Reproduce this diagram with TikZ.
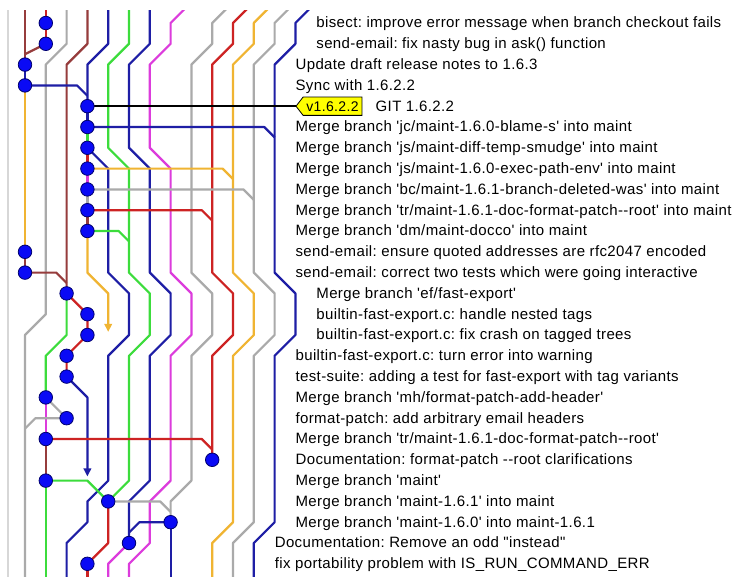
\documentclass[tikz,border=0pt]{standalone}
\usepackage{fontspec}
\newfontfamily\gitfont{Liberation Sans}[LetterSpace=2.5]
\usetikzlibrary{arrows.meta}
\frenchspacing
\definecolor{gblue}{RGB}{30,30,165}
\definecolor{ggreen}{RGB}{60,220,60}
\definecolor{gmag}{RGB}{220,60,220}
\definecolor{ggray}{RGB}{170,170,170}
\definecolor{gred}{RGB}{205,35,35}
\definecolor{gbrown}{RGB}{150,60,60}
\definecolor{gorange}{RGB}{240,180,50}
\definecolor{glight}{RGB}{215,215,215}
\definecolor{dotfill}{RGB}{10,10,245}
\definecolor{dotedge}{RGB}{0,0,110}
\definecolor{tagyellow}{RGB}{255,255,0}
\begin{document}
\begin{tikzpicture}[
  ln/.style={line width=2.2pt, line join=round},
  cdot/.style={circle, fill=dotfill, draw=dotedge, line width=0.8pt, minimum size=13.5pt, inner sep=0pt},
  msg/.style={anchor=base west, inner sep=0pt, font=\gitfont\fontsize{15}{17}\selectfont\frenchspacing},
  arr/.style={-{Triangle[length=8pt,width=7.5pt]}},
]
\useasboundingbox (0pt,0pt) rectangle (734pt,-576pt);
\fill[white] (0pt,0pt) rectangle (734pt,-576pt);
\begin{scope}[shift={(4.2pt,-23pt)}, x=20.8pt, y=-20.8pt]
% commit positions (column, row)
\coordinate (p0) at (2,0);
\coordinate (p1) at (2,1);
\coordinate (p2) at (1,2);
\coordinate (p3) at (1,3);
\coordinate (p4) at (4,4);
\coordinate (p5) at (4,5);
\coordinate (p6) at (4,6);
\coordinate (p7) at (4,7);
\coordinate (p8) at (4,8);
\coordinate (p9) at (4,9);
\coordinate (p10) at (4,10);
\coordinate (p11) at (1,11);
\coordinate (p12) at (1,12);
\coordinate (p13) at (3,13);
\coordinate (p14) at (4,14);
\coordinate (p15) at (4,15);
\coordinate (p16) at (3,16);
\coordinate (p17) at (3,17);
\coordinate (p18) at (2,18);
\coordinate (p19) at (3,19);
\coordinate (p20) at (2,20);
\coordinate (p21) at (10,21);
\coordinate (p22) at (2,22);
\coordinate (p23) at (5,23);
\coordinate (p24) at (8,24);
\coordinate (p25) at (6,25);
\coordinate (p26) at (4,26);
\coordinate (tagtip) at (14.03,4);
\begin{scope}
\clip (-1,-0.625) rectangle (36,26.7);
% left border line
\draw[ln, glight] (0.2,-1) -- (0.2,27);
% long lines from above
\draw[ln, gbrown] (1,-1) -- (p2);
\draw[ln, gbrown] (p1) -- (1,1.5);
\draw[ln, gred] (2,-1) -- (p0) -- (p1);
\draw[ln, ggray] (3,-1) -- (3,1) -- (2,2) -- (2,14) -- (1,15) -- (1,27);
\draw[ln, gbrown] (4,-1) -- (4,1) -- (3,2) -- (p13);
\draw[ln, gblue] (5,-1) -- (5,1) -- (4,2) -- (p4);
\draw[ln, ggreen] (6,-1) -- (6,1) -- (5,2) -- (5,6) -- (6,7) -- (6,12) -- (7,13) -- (7,15) -- (6,16) -- (6,22) -- (p23);
\draw[ln, gblue] (7,-1) -- (7,1) -- (6,2) -- (6,6) -- (7,7) -- (7,12) -- (8,13) -- (8,15) -- (7,16) -- (7,22) -- (6,23) -- (p25);
\draw[ln, gmag] (9,-1) -- (8,0) -- (8,1) -- (7,2) -- (7,6) -- (8,7) -- (8,12) -- (9,13) -- (9,15) -- (8,16) -- (8,22) -- (7,23) -- (7,25) -- (6,26) -- (6,27);
\draw[ln, ggray] (11,-1) -- (10,0) -- (10,1) -- (9,2) -- (9,12) -- (10,13) -- (10,15) -- (9,16) -- (9,22) -- (8,23) -- (p24);
\draw[ln, gred] (12,-1) -- (11,0) -- (11,1) -- (10,2) -- (10,12) -- (11,13) -- (11,15) -- (10,16) -- (p21);
\draw[ln, gorange] (13,-1) -- (12,0) -- (12,1) -- (11,2) -- (11,12) -- (12,13) -- (12,15) -- (11,16) -- (11,24) -- (10,25) -- (10,27);
\draw[ln, ggray] (14,-1) -- (13,0) -- (13,1) -- (12,2) -- (12,12) -- (13,13) -- (13,15) -- (12,16) -- (12,24) -- (11,25) -- (11,27);
\draw[ln, gblue] (15,-1) -- (14,0) -- (14,1) -- (13,2) -- (13,12) -- (14,13) -- (14,15) -- (13,16) -- (13,24) -- (12,25) -- (12,27);
% first-parent chains
\draw[ln, gblue] (p2) -- (p3);
\draw[ln, gorange] (p3) -- (p11);
\draw[ln, gbrown] (p11) -- (p12);
\draw[ln, gblue] (p4) -- (p5);
\draw[ln, ggreen] (p5) -- (p6);
\draw[ln, gred] (p6) -- (p7);
\draw[ln, gmag] (p7) -- (p8);
\draw[ln, ggray] (p8) -- (p9);
\draw[ln, gbrown] (p9) -- (p10);
\draw[ln, gorange, arr] (p10) -- (4,12) -- (5,13) -- (5,14.85);
\draw[ln, gblue] (p6) -- (5,7) -- (5,12) -- (6,13) -- (6,15) -- (5,16) -- (5,22) -- (4,23) -- (4,24) -- (3,25) -- (3,27);
\draw[ln, gred] (p13) -- (p14) -- (p15) -- (p16) -- (p17);
\draw[ln, ggreen] (p13) -- (3,15) -- (2,16) -- (p18);
\draw[ln, gblue, arr] (p17) -- (4,18) -- (4,21.8);
\draw[ln, ggray] (p18) -- (p19);
\draw[ln, gmag] (p18) -- (p20);
\draw[ln, gbrown] (p20) -- (p22);
\draw[ln, ggreen] (p22) -- (2,27);
\draw[ln, gred] (p23) -- (5,25) -- (p26);
\draw[ln, gblue] (p24) -- (8,27);
\draw[ln, gmag] (p25) -- (5,26) -- (5,27);
\draw[ln, gred] (p26) -- (4,27);
% merge links
\draw[ln, gblue] (p3) -- (3.5,3) -- (4,3.5);
\draw[ln, gblue] (p5) -- (12.5,5) -- (13,5.5);
\draw[ln, gorange] (p7) -- (10.5,7) -- (11,7.5);
\draw[ln, ggray] (p8) -- (11.5,8) -- (12,8.5);
\draw[ln, gred] (p9) -- (9.5,9) -- (10,9.5);
\draw[ln, ggreen] (p10) -- (5.5,10) -- (6,10.5);
\draw[ln, gbrown] (p12) -- (2.5,12) -- (3,12.5);
\draw[ln, ggray] (p19) -- (1.5,19) -- (1,19.5);
\draw[ln, gred] (p20) -- (9.5,20) -- (10,20.5);
\draw[ln, ggreen] (p22) -- (4,22) -- (p23);
\draw[ln, ggray] (p23) -- (7.5,23) -- (8,23.5);
\draw[ln, gblue] (p24) -- (6.5,24) -- (6,24.5);
\end{scope}
% tag
\draw[ln, black] (p4) -- (tagtip);
\draw[fill=tagyellow, draw=black, line width=0.8pt] (tagtip) -- (14.37,3.56) -- (17.2,3.56) -- (17.2,4.44) -- (14.37,4.44) -- cycle;
\node[msg, anchor=base, font=\gitfont\fontsize{14}{16}\selectfont] (tagtxt) at (15.78,4.24) {v1.6.2.2};
% commits
\foreach \i in {0,...,26} { \node[cdot] (d\i) at (p\i) {}; }
% messages
\node[msg] (t0) at (15,0.24) {bisect: improve error message when branch checkout fails};
\node[msg] (t1) at (15,1.24) {send-email: fix nasty bug in ask() function};
\node[msg] (t2) at (14,2.24) {Update draft release notes to 1.6.3};
\node[msg] (t3) at (14,3.24) {Sync with 1.6.2.2};
\node[msg] (t4) at (17.85,4.24) {GIT 1.6.2.2};
\node[msg] (t5) at (14,5.24) {Merge branch 'jc/maint-1.6.0-blame-s' into maint};
\node[msg] (t6) at (14,6.24) {Merge branch 'js/maint-diff-temp-smudge' into maint};
\node[msg] (t7) at (14,7.24) {Merge branch 'js/maint-1.6.0-exec-path-env' into maint};
\node[msg] (t8) at (14,8.24) {Merge branch 'bc/maint-1.6.1-branch-deleted-was' into maint};
\node[msg] (t9) at (14,9.24) {Merge branch 'tr/maint-1.6.1-doc-format-patch--root' into maint};
\node[msg] (t10) at (14,10.24) {Merge branch 'dm/maint-docco' into maint};
\node[msg] (t11) at (14,11.24) {send-email: ensure quoted addresses are rfc2047 encoded};
\node[msg] (t12) at (14,12.24) {send-email: correct two tests which were going interactive};
\node[msg] (t13) at (15,13.24) {Merge branch 'ef/fast-export'};
\node[msg] (t14) at (15,14.24) {builtin-fast-export.c: handle nested tags};
\node[msg] (t15) at (15,15.24) {builtin-fast-export.c: fix crash on tagged trees};
\node[msg] (t16) at (14,16.24) {builtin-fast-export.c: turn error into warning};
\node[msg] (t17) at (14,17.24) {test-suite: adding a test for fast-export with tag variants};
\node[msg] (t18) at (14,18.24) {Merge branch 'mh/format-patch-add-header'};
\node[msg] (t19) at (14,19.24) {format-patch: add arbitrary email headers};
\node[msg] (t20) at (14,20.24) {Merge branch 'tr/maint-1.6.1-doc-format-patch--root'};
\node[msg] (t21) at (14,21.24) {Documentation: format-patch --root clarifications};
\node[msg] (t22) at (14,22.24) {Merge branch 'maint'};
\node[msg] (t23) at (14,23.24) {Merge branch 'maint-1.6.1' into maint};
\node[msg] (t24) at (14,24.24) {Merge branch 'maint-1.6.0' into maint-1.6.1};
\node[msg] (t25) at (13,25.24) {Documentation: Remove an odd "instead"};
\node[msg] (t26) at (13,26.24) {fix portability problem with IS\_RUN\_COMMAND\_ERR};
\end{scope}
\end{tikzpicture}
\end{document}
